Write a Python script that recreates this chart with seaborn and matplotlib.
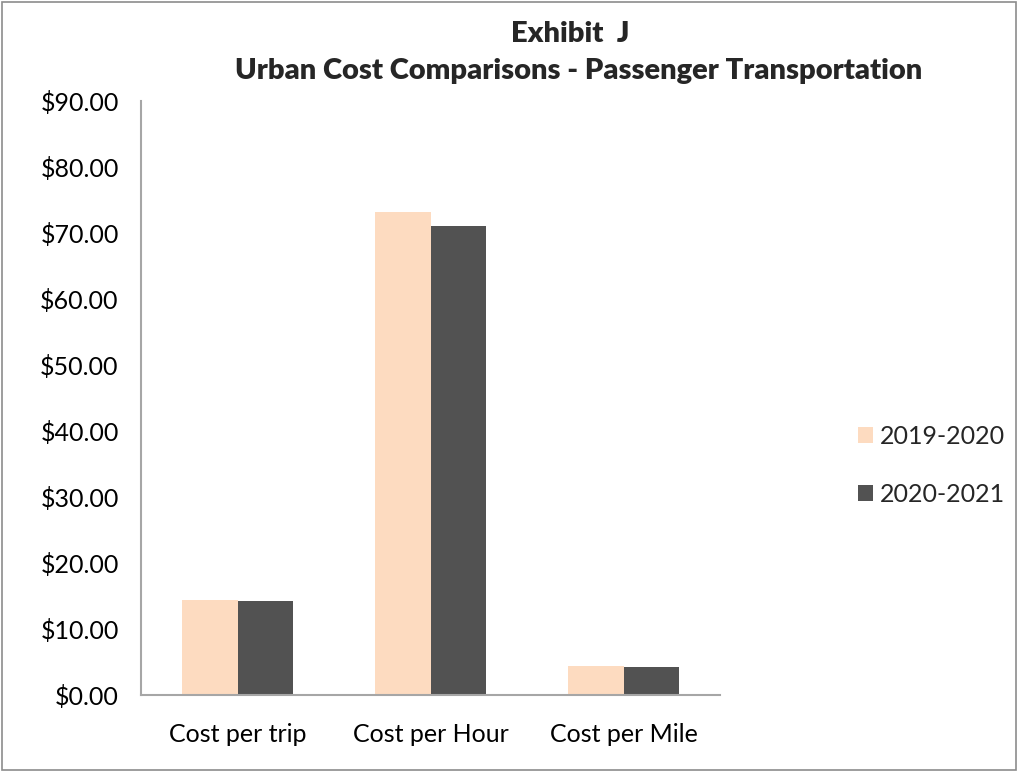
import pandas as pd
import matplotlib.pyplot as plt
import seaborn as sns
from matplotlib.patches import Rectangle
from matplotlib.ticker import FuncFormatter

categories = ["Cost per trip", "Cost per Hour", "Cost per Mile"]
years = ["2019-2020", "2020-2021"]
cost_2019 = [14.40, 73.20, 4.40]
cost_2020 = [14.30, 71.10, 4.30]

df = pd.DataFrame({
    "category": categories * 2,
    "year": [years[0]] * 3 + [years[1]] * 3,
    "cost": cost_2019 + cost_2020,
})

sns.set_style("white")
plt.rcParams["font.family"] = ["Lato", "DejaVu Sans"]

fig = plt.figure(figsize=(10.18, 7.72), dpi=100)
ax = fig.add_axes([141 / 1018, 77 / 772, 579 / 1018, 594 / 772])

sns.barplot(data=df, x="category", y="cost", hue="year", ax=ax,
            palette=["#FDDBC0", "#525252"], width=0.58, saturation=1,
            linewidth=0)

ax.set_ylim(0, 90)
ax.set_yticks(range(0, 91, 10))
ax.yaxis.set_major_formatter(FuncFormatter(lambda v, p: f"${v:.2f}"))
ax.set_xlabel("")
ax.set_ylabel("")
ax.tick_params(axis="both", labelsize=18, length=0, colors="black")
ax.tick_params(axis="x", pad=20)
ax.tick_params(axis="y", pad=16)

for side in ["top", "right"]:
    ax.spines[side].set_visible(False)
for side in ["left", "bottom"]:
    ax.spines[side].set_color("#a6a6a6")
    ax.spines[side].set_linewidth(1.5)

leg = ax.legend(loc="center left", bbox_to_anchor=(1.2, 0.387), frameon=False,
                fontsize=18, handlelength=0.6, handleheight=0.6,
                handletextpad=0.25, labelspacing=1.4)

fig.text(0.56, 0.956, "Exhibit  J", ha="center", va="center",
         fontsize=21, fontweight="heavy")
fig.text(0.568, 0.908, "Urban Cost Comparisons - Passenger Transportation",
         ha="center", va="center", fontsize=21, fontweight="heavy")

# thin grey frame round the whole chart
fig.patches.append(Rectangle((0.002, 0.002), 0.996, 0.996, transform=fig.transFigure,
                             fill=False, edgecolor="#8c8c8c", linewidth=1.2))

fig.savefig("out.png", dpi=100)
